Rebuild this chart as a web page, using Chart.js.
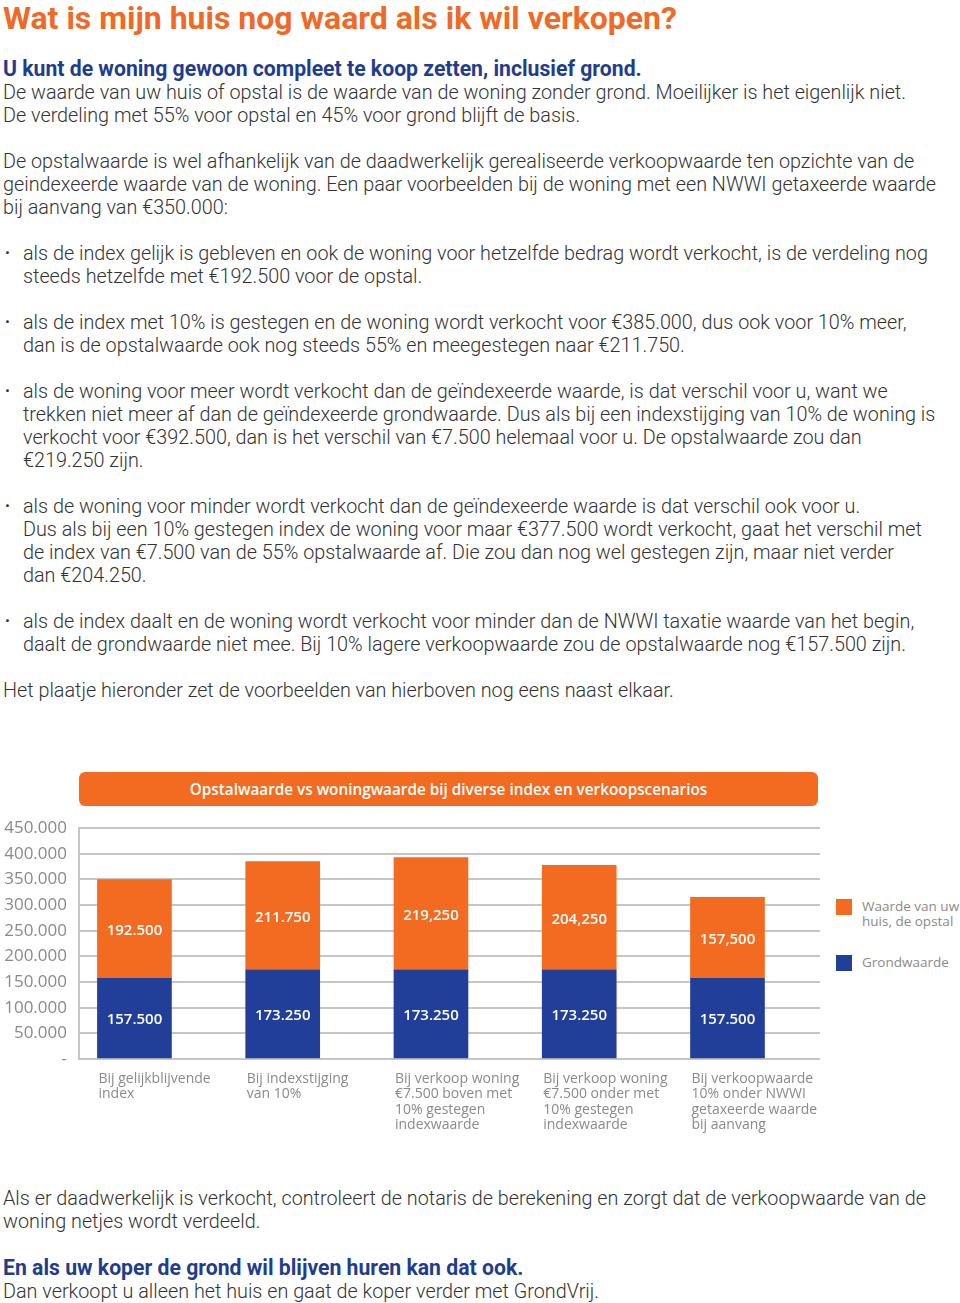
<!DOCTYPE html>
<html lang="nl">
<head>
<meta charset="utf-8">
<title>Wat is mijn huis nog waard als ik wil verkopen?</title>
<script src="https://cdn.jsdelivr.net/npm/chart.js@4.4.1/dist/chart.umd.min.js"></script>
<style>
body { margin:0; background:#fff; }
#pagina { position:relative; width:960px; height:1303px; overflow:hidden; font-family:Roboto, sans-serif; font-weight:300; color:#333; }
h1 { position:absolute; left:3px; top:0; margin:0; font-size:32px; line-height:36px; color:#ef6a27; font-weight:700; white-space:nowrap; }
.tekst { position:absolute; left:3px; font-size:19.8px; line-height:23px; white-space:nowrap; }
.tekst p { margin:0 0 23px 0; }
.blauw { color:#1f3d8f; font-weight:700; font-size:21.2px; }
ul { list-style:none; margin:0 0 23px 0; padding:0; }
li { position:relative; padding-left:20px; margin-bottom:23px; }
li:before { content:"\2022"; position:absolute; left:2px; font-size:15px; }
#titel { position:absolute; left:79px; top:772px; width:739px; height:34px; background:#f26b21; border-radius:6px; color:#fff; font:600 15.3px "Open Sans"; line-height:34px; text-align:center; }
#grafiek { position:absolute; left:0; top:806px; }
.blok { position:absolute; left:836px; width:16px; height:16px; }
.legtekst { position:absolute; left:862px; font:13.5px "Open Sans"; line-height:15px; color:#8a8a8a; white-space:nowrap; }
</style>
</head>
<body>
<div id="pagina">
  <h1>Wat is mijn huis nog waard als ik wil verkopen?</h1>

  <div class="tekst" style="top:57px">
    <p><span class="blauw">U kunt de woning gewoon compleet te koop zetten, inclusief grond.</span><br>
    De waarde van uw huis of opstal is de waarde van de woning zonder grond. Moeilijker is het eigenlijk niet.<br>
    De verdeling met 55% voor opstal en 45% voor grond blijft de basis.</p>
    <p>De opstalwaarde is wel afhankelijk van de daadwerkelijk gerealiseerde verkoopwaarde ten opzichte van de<br>
    geindexeerde waarde van de woning. Een paar voorbeelden bij de woning met een NWWI getaxeerde waarde<br>
    bij aanvang van €350.000:</p>
    <ul>
      <li>als de index gelijk is gebleven en ook de woning voor hetzelfde bedrag wordt verkocht, is de verdeling nog<br>
      steeds hetzelfde met €192.500 voor de opstal.</li>
      <li>als de index met 10% is gestegen en de woning wordt verkocht voor €385.000, dus ook voor 10% meer,<br>
      dan is de opstalwaarde ook nog steeds 55% en meegestegen naar €211.750.</li>
      <li>als de woning voor meer wordt verkocht dan de geïndexeerde waarde, is dat verschil voor u, want we<br>
      trekken niet meer af dan de geïndexeerde grondwaarde. Dus als bij een indexstijging van 10% de woning is<br>
      verkocht voor €392.500, dan is het verschil van €7.500 helemaal voor u. De opstalwaarde zou dan<br>
      €219.250 zijn.</li>
      <li>als de woning voor minder wordt verkocht dan de geïndexeerde waarde is dat verschil ook voor u.<br>
      Dus als bij een 10% gestegen index de woning voor maar €377.500 wordt verkocht, gaat het verschil met<br>
      de index van €7.500 van de 55% opstalwaarde af. Die zou dan nog wel gestegen zijn, maar niet verder<br>
      dan €204.250.</li>
      <li>als de index daalt en de woning wordt verkocht voor minder dan de NWWI taxatie waarde van het begin,<br>
      daalt de grondwaarde niet mee. Bij 10% lagere verkoopwaarde zou de opstalwaarde nog €157.500 zijn.</li>
    </ul>
    <p>Het plaatje hieronder zet de voorbeelden van hierboven nog eens naast elkaar.</p>
  </div>

  <div id="titel">Opstalwaarde vs woningwaarde bij diverse index en verkoopscenarios</div>
  <canvas id="grafiek" width="830" height="337"></canvas>

  <div class="blok" style="top:899px; background:#f26b21"></div>
  <div class="legtekst" style="top:899px">Waarde van uw<br>huis, de opstal</div>
  <div class="blok" style="top:955px; background:#213f99"></div>
  <div class="legtekst" style="top:955px">Grondwaarde</div>

  <div class="tekst" style="top:1187px">
    <p>Als er daadwerkelijk is verkocht, controleert de notaris de berekening en zorgt dat de verkoopwaarde van de<br>
    woning netjes wordt verdeeld.</p>
    <p><span class="blauw">En als uw koper de grond wil blijven huren kan dat ook.</span><br>
    Dan verkoopt u alleen het huis en gaat de koper verder met GrondVrij.</p>
  </div>
</div>

<script>
// Gegevens van de grafiek
var categorieen = [
    ["Bij gelijkblijvende", "index"],
    ["Bij indexstijging", "van 10%"],
    ["Bij verkoop woning", "€7.500 boven met", "10% gestegen", "indexwaarde"],
    ["Bij verkoop woning", "€7.500 onder met", "10% gestegen", "indexwaarde"],
    ["Bij verkoopwaarde", "10% onder NWWI", "getaxeerde waarde", "bij aanvang"]
];
var grondwaarde = [157500, 173250, 173250, 173250, 157500];
var opstalwaarde = [192500, 211750, 219250, 204250, 157500];
var grondEtiketten = ["157.500", "173.250", "173.250", "173.250", "157.500"];
var opstalEtiketten = ["192.500", "211.750", "219,250", "204,250", "157,500"];
var yEtiketten = ["-", "50.000", "100.000", "150.000", "200.000", "250.000", "300.000", "350.000", "400.000", "450.000"];

var ORANJE = '#f26b21';
var BLAUW = '#213f99';
var GRIJS = '#8a8a8a';

function punten(waarden)
{
    return waarden.map(function(v, i) { return { x: i, y: v }; });
}

// Tekst in de balken en de categorieen onder de balken
var etiketten = {
    id: 'etiketten',
    afterDatasetsDraw: function(chart)
    {
        var ctx = chart.ctx;
        var lijsten = [grondEtiketten, opstalEtiketten];
        ctx.save();
        ctx.font = '600 15px "Open Sans"';
        ctx.fillStyle = '#ffffff';
        ctx.textAlign = 'center';
        ctx.textBaseline = 'middle';
        chart.data.datasets.forEach(function(ds, d) {
            chart.getDatasetMeta(d).data.forEach(function(balk, i) {
                ctx.fillText(lijsten[d][i], balk.x, (balk.y + balk.base) / 2 + 2);
            });
        });

        ctx.font = '14px "Open Sans"';
        ctx.fillStyle = GRIJS;
        ctx.textAlign = 'left';
        var balken = chart.getDatasetMeta(0).data;
        categorieen.forEach(function(regels, i) {
            regels.forEach(function(regel, r) {
                ctx.fillText(regel, balken[i].x - balken[i].width / 2 + 1, chart.chartArea.bottom + 20 + r * 15.3);
            });
        });
        ctx.restore();
    }
};

var grafiek = new Chart(document.getElementById('grafiek'), {
    type: 'bar',
    data: {
        datasets: [
            { label: 'Grondwaarde', data: punten(grondwaarde), backgroundColor: BLAUW },
            { label: 'Waarde van uw huis, de opstal', data: punten(opstalwaarde), backgroundColor: ORANJE }
        ]
    },
    options: {
        responsive: false,
        animation: false,
        devicePixelRatio: 1,
        barThickness: 74,
        layout: { padding: { top: 9, right: 10, bottom: 84, left: 0 } },
        plugins: { legend: { display: false }, tooltip: { enabled: false } },
        scales: {
            x: { type: 'linear', stacked: true, offset: false, min: -0.374, max: 4.624, display: false },
            y: {
                stacked: true,
                min: 0,
                max: 450000,
                afterFit: function(schaal) { schaal.width = 79; },
                grid: { color: '#c6c6c6', lineWidth: 2, drawTicks: false },
                border: { display: true, color: '#c6c6c6', width: 2 },
                ticks: {
                    stepSize: 50000,
                    padding: 12,
                    color: GRIJS,
                    font: { family: 'Open Sans', size: 17 },
                    callback: function(waarde, index) { return yEtiketten[index]; }
                }
            }
        }
    },
    plugins: [etiketten]
});
</script>
</body>
</html>
